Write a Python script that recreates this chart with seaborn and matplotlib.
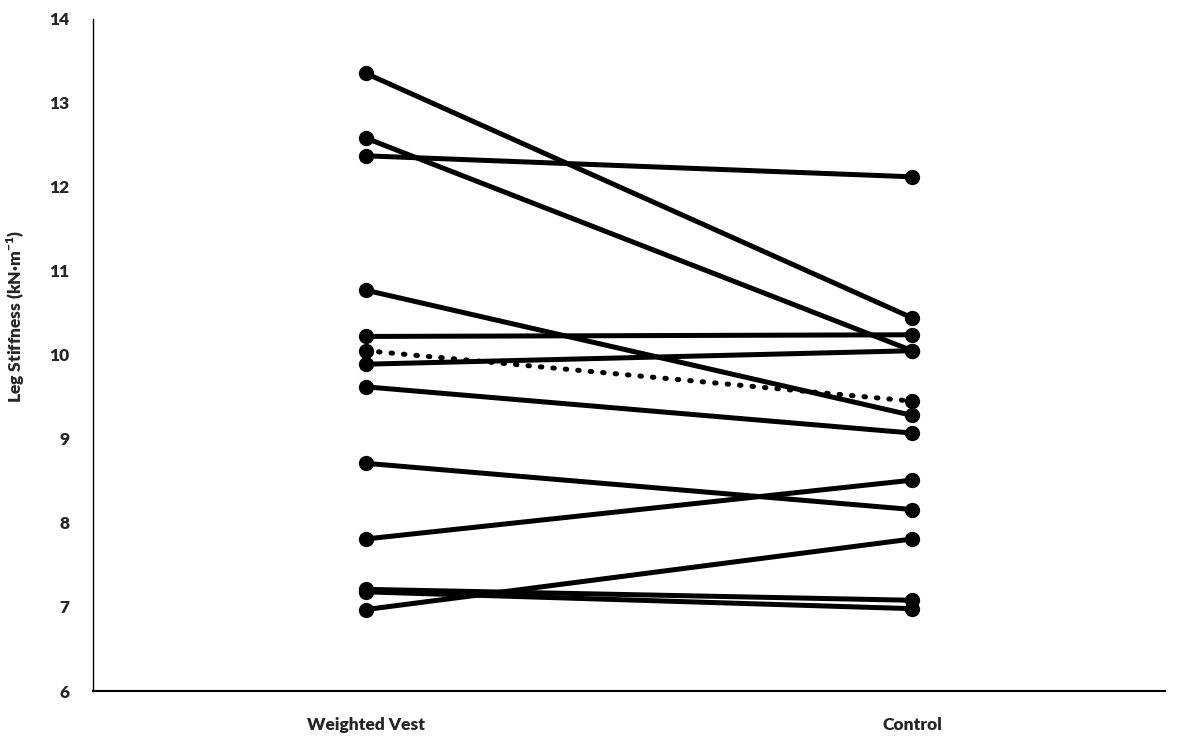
import pandas as pd
import seaborn as sns
import matplotlib.pyplot as plt

# 조건 (x축)
conditions = ["Weighted Vest", "Control"]

# 개별 피험자 값 (kN·m-1)
vest = [13.35, 12.58, 12.37, 10.77, 10.22, 9.89, 9.62, 8.71, 7.81, 7.21, 7.18, 6.97]
control = [10.44, 10.05, 12.12, 9.28, 10.24, 10.05, 9.07, 8.16, 8.51, 7.08, 6.98, 7.81]

# 점선 시리즈
dotted_vest = 10.05
dotted_control = 9.45

sns.set_style("white")
plt.rcParams["font.family"] = ["Lato", "DejaVu Sans"]
plt.rcParams["mathtext.fontset"] = "custom"
plt.rcParams["mathtext.bf"] = "Lato:heavy"
plt.rcParams["mathtext.rm"] = "Lato"

rows = []
for i, (a, b) in enumerate(zip(vest, control)):
    rows.append({"subject": i, "x": 0, "value": a})
    rows.append({"subject": i, "x": 1, "value": b})
df = pd.DataFrame(rows)

df_dot = pd.DataFrame({"x": [0, 1], "value": [dotted_vest, dotted_control]})

fig = plt.figure(figsize=(11.77, 7.37), dpi=100)
ax = fig.add_axes([0.079, 0.0624, 0.911, 0.912])

sns.lineplot(data=df, x="x", y="value", units="subject", estimator=None,
             color="black", linewidth=3.6, marker="o", markersize=11,
             markeredgewidth=0, ax=ax, legend=False)
sns.lineplot(data=df_dot, x="x", y="value", color="black", linewidth=3.6,
             linestyle=(0, (0.3, 2.2)), dash_capstyle="round", ax=ax, legend=False)
ax.plot([0, 1], [dotted_vest, dotted_control], "o", color="black", markersize=11,
        markeredgewidth=0)

ax.set_xlim(-0.5, 1.463)
ax.set_ylim(6, 14)
ax.set_xticks([0, 1])
ax.set_xticklabels(conditions, fontsize=12.5, fontweight="heavy")
ax.set_yticks(range(6, 15))
ax.set_yticklabels([str(v) for v in range(6, 15)], fontsize=12.5, fontweight="heavy")
ax.tick_params(axis="x", length=0, pad=19)
ax.tick_params(axis="y", length=0, pad=17)

ax.set_xlabel("")
ax.set_ylabel("Leg Stiffness (kN·m$^{\\mathbf{-1}}$)", fontsize=12.5, fontweight="heavy")
ax.yaxis.set_label_coords(-0.062, 0.558)

for s in ["top", "right"]:
    ax.spines[s].set_visible(False)
ax.spines["left"].set_color("black")
ax.spines["left"].set_linewidth(1.0)
ax.spines["bottom"].set_color("black")
ax.spines["bottom"].set_linewidth(1.5)

fig.savefig("out.png", dpi=100)
